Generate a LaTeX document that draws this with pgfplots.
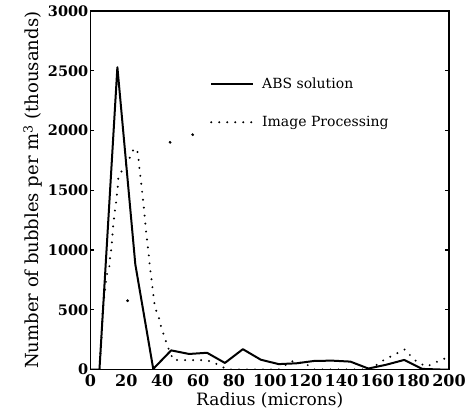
\documentclass[border=0pt]{standalone}
\usepackage{fontspec}
\setmainfont{DejaVu Serif}
\usepackage{pgfplots}
\pgfplotsset{compat=1.18}
\begin{document}
\begin{tikzpicture}[x=1pt,y=1pt]
\useasboundingbox (-90.5,-46.5) rectangle (384.5,369.5);
\begin{axis}[
  at={(0,0)}, anchor=south west,
  scale only axis, width=358.5pt, height=358.5pt,
  xmin=0, xmax=200, ymin=0, ymax=3000,
  xtick={0,20,...,200}, ytick={0,500,...,3000},
  axis line style={line width=1.7pt},
  tick align=inside,
  major tick length=4pt,
  ytick style={line width=1.2pt, black},
  xtick style={draw=none},
  /pgf/number format/1000 sep={},
  /pgf/number format/assume math mode=true,
  yticklabel style={font=\fontsize{14.5}{15}\selectfont\bfseries, xshift=1.3pt},
  xticklabel style={font=\fontsize{16}{17}\selectfont\bfseries, yshift=-1.2pt},
  xlabel={Radius (microns)},
  ylabel={Number of bubbles per m\textsuperscript{3} (thousands)},
  xlabel style={font=\fontsize{17}{18}\selectfont, at={(axis description cs:0.5,0)}, anchor=base, yshift=-35.5pt},
  ylabel style={font=\fontsize{18}{19}\selectfont, at={(axis description cs:-0.1437,0.5)}, anchor=base},
  legend cell align=left,
  legend style={draw=none, fill=none, at={(axis cs:68.5,2443)}, anchor=north west,
    font=\fontsize{14}{16}\selectfont, inner sep=0pt, row sep=26.5pt,
    nodes={inner xsep=3.35pt, inner ysep=0pt}, xshift=-3.35pt},
  legend image code/.code={\draw[#1] (0pt,0pt) -- (42pt,0pt); \path (46.5pt,0pt);},
]
\addplot[black, line width=2pt, line join=round] coordinates {
(0,0) (5,0) (15,2530) (25,880) (35,5) (45,160) (55,130) (65,140) (75,55) (85,170)
(95,82) (105,45) (115,52) (125,72) (135,74) (145,66) (155,8) (165,40) (175,80)
(185,5) (195,0) (200,0)
};
\addlegendentry{ABS solution}
\addplot[black, line width=2.2pt, line cap=round, dash pattern=on 0pt off 8pt] coordinates {
(5,0) (5.3,80) (6.2,275) (6.8,500) (8.0,650) (9,790) (10.5,860) (10.9,930) (11.5,1000)
(12,1070) (12.5,1180) (13.1,1265) (13.6,1330) (14.2,1390) (14.6,1445) (15.2,1530)
(15.5,1600) (17.4,1660) (20.2,1720) (22,1776) (23.9,1837) (25.8,1850) (26.7,1780)
(27.3,1680) (28.6,1516) (29.5,1393) (30.4,1251) (31.3,1111) (32.3,986) (33.2,847)
(33.8,780) (35,638) (36,512) (37.8,456) (38.8,386) (40.3,316) (42.9,197) (46.2,80)
(55,78) (65,78) (68.5,57) (72.2,35) (76,0) (105,0) (112,70) (120,48) (125,0)
(157,0) (160.6,52) (164.3,85) (168,113) (171.7,141) (175.5,169) (178.2,121)
(182,65) (187.5,24) (192.2,57) (196,85) (200,100)
};
\addlegendentry{Image Processing}
\addplot[only marks, mark=*, mark size=1.2pt, black, forget plot] coordinates {
(44.4,1901) (57,1965) (20.7,576)
};
\end{axis}
\end{tikzpicture}
\end{document}
